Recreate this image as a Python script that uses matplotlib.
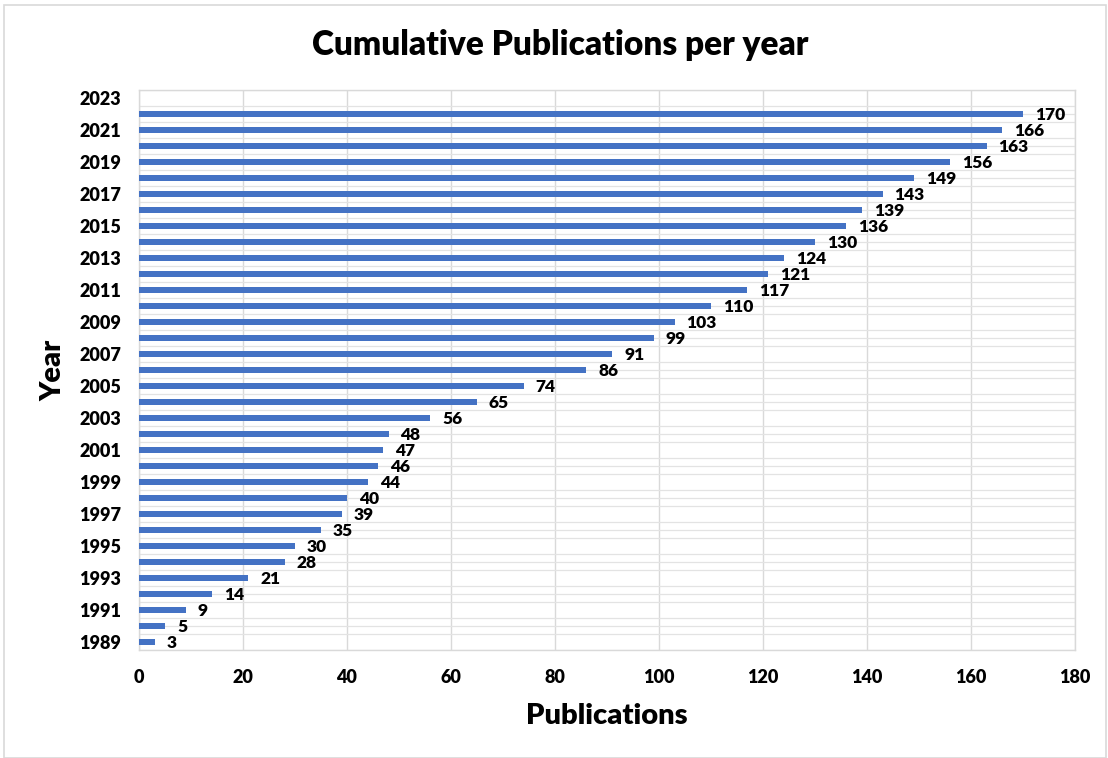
import matplotlib
matplotlib.use("Agg")
import matplotlib.pyplot as plt
from matplotlib.patches import Rectangle
import numpy as np

years = list(range(1989, 2024))
values = [3, 5, 9, 14, 21, 28, 30, 35, 39, 40, 44, 46, 47, 48, 56, 65, 74, 86,
          91, 99, 103, 110, 117, 121, 124, 130, 136, 139, 143, 149, 156, 163, 166, 170]
xticks = [0, 20, 40, 60, 80, 100, 120, 140, 160, 180]

plt.rcParams['font.family'] = ['Lato', 'DejaVu Sans']
W, H = 1108, 758
fig = plt.figure(figsize=(W / 100, H / 100), dpi=100)
fig.patches.append(Rectangle((4 / W, 0.0), (W - 6) / W, (H - 5) / H, transform=fig.transFigure,
                             fill=False, edgecolor='#d9d9d9', lw=1.2))

ax = fig.add_axes([139 / W, (H - 650) / H, (1075 - 139) / W, (650 - 90) / H])
idx = np.arange(len(values))
ax.barh(idx, values, height=0.42, color='#4472C4', zorder=3)
for i, v in zip(idx, values):
    ax.text(v + 2.3, i - 0.05, str(v), va='center', ha='left', fontsize=12.5,
            fontweight='heavy', color='black', zorder=4)

ax.set_xlim(0, 180)
ax.set_ylim(-0.5, len(years) - 0.5)
ax.set_xticks(xticks)
ax.set_xticklabels([str(x) for x in xticks], fontsize=13, fontweight='heavy')
ytick_pos = list(range(0, len(years), 2))
ax.set_yticks(ytick_pos)
ax.set_yticklabels([str(years[i]) for i in ytick_pos], fontsize=13, fontweight='heavy')
ax.set_yticks(np.arange(-0.5, len(years), 0.5), minor=True)
ax.tick_params(axis='both', which='both', length=0)
ax.tick_params(axis='x', pad=14)
ax.tick_params(axis='y', pad=13)
ax.grid(axis='x', which='major', color='#d9d9d9', lw=1.0, zorder=0)
ax.grid(axis='y', which='minor', color='#e3e3e3', lw=0.9, zorder=0)
for s in ax.spines.values():
    s.set_color('#d9d9d9')
    s.set_linewidth(1.0)

ax.set_xlabel('Publications', fontsize=21, fontweight='heavy', labelpad=12)
ax.set_ylabel('Year', fontsize=21, fontweight='heavy', labelpad=9)
fig.text(560 / W, (H - 45) / H, 'Cumulative Publications per year', ha='center', va='center',
         fontsize=24, fontweight='heavy')

fig.savefig('out.png', dpi=100)
